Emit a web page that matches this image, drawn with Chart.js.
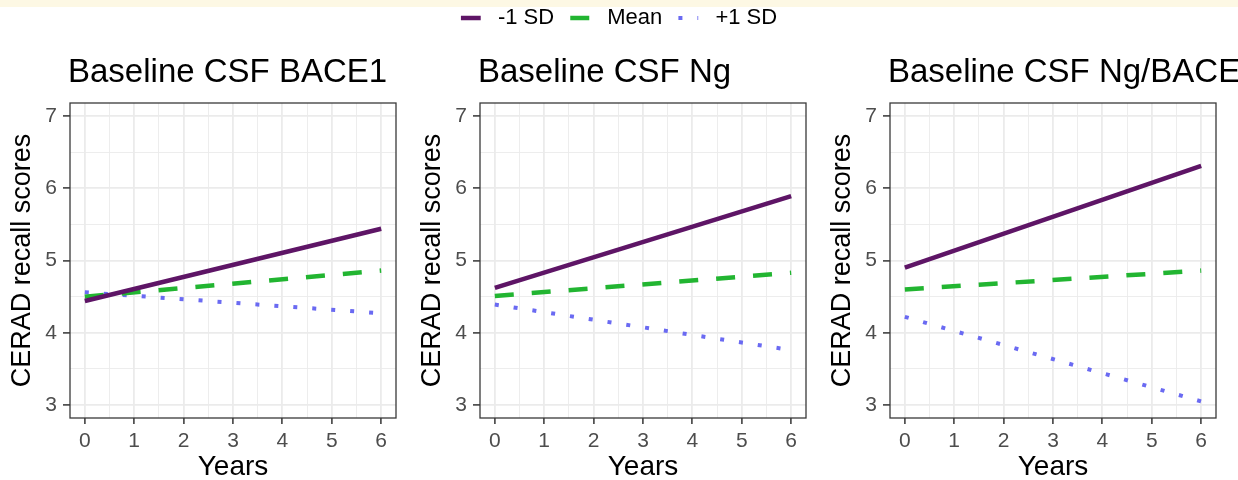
<!DOCTYPE html>
<html>
<head>
<meta charset="utf-8">
<script src="https://cdn.jsdelivr.net/npm/chart.js@4.4.0/dist/chart.umd.min.js"></script>
<style>
  body { margin: 0; background: #fff; width: 1238px; height: 480px; overflow: hidden; position: relative; }
  #band { position: absolute; left: 0; top: 0; width: 1238px; height: 7px; background: #fdf8e4; }
  canvas { position: absolute; top: 0; }
</style>
</head>
<body>
<div id="band"></div>
<canvas id="legendBox" width="1238" height="70" style="left:0; top:-9px"></canvas>
<canvas id="c1" width="410" height="480" style="left:0"></canvas>
<canvas id="c2" width="410" height="480" style="left:410px"></canvas>
<canvas id="c3" width="418" height="480" style="left:820px"></canvas>
<script>
// data (values at year 0 and year 6)
var years = [0, 6];
var seriesNames = ['-1 SD', 'Mean', '+1 SD'];
var panelTitles = ['Baseline CSF BACE1', 'Baseline CSF Ng', 'Baseline CSF Ng/BACE'];

var bace1Low = [4.44, 5.44];
var bace1Mean = [4.50, 4.86];
var bace1High = [4.56, 4.27];

var ngLow = [4.62, 5.89];
var ngMean = [4.51, 4.83];
var ngHigh = [4.39, 3.76];

var ratioLow = [4.90, 6.31];
var ratioMean = [4.60, 4.86];
var ratioHigh = [4.22, 3.05];

var xTickLabels = [0, 1, 2, 3, 4, 5, 6];
var yTickLabels = [3, 4, 5, 6, 7];

var FONT = "'Liberation Sans', Arial, sans-serif";
var colors = ['#5e1566', '#22b531', '#6a6af2'];
var dashes = [[], [19, 18], [4, 15]];
var widths = [4.5, 4.5, 4];

// gridline positions (major + minor)
var xGrid = [];
for (var i = 0; i <= 12; i++) xGrid.push(i / 2);
var yGrid = [];
for (var j = 6; j <= 14; j++) yGrid.push(j / 2);

function makeSet(k, values) {
  return {
    label: seriesNames[k],
    data: years.map(function (x, n) { return { x: x, y: values[n] }; }),
    borderColor: colors[k],
    backgroundColor: colors[k],
    borderWidth: widths[k],
    borderDash: dashes[k],
    borderCapStyle: 'butt',
    pointRadius: 0,
    fill: false
  };
}

var isMajor = function (ctx) { return ctx.tick && Number.isInteger(ctx.tick.value); };

var panelTitle = {
  id: 'panelTitle',
  afterDraw: function (chart, args, opts) {
    var c = chart.ctx;
    c.save();
    c.font = '33px ' + FONT;
    c.fillStyle = '#000';
    c.textBaseline = 'middle';
    c.textAlign = 'left';
    c.fillText(opts.text, chart.chartArea.left - 2, 73);
    c.restore();
  }
};

var frame = {
  id: 'frame',
  afterDraw: function (chart) {
    var a = chart.chartArea, c = chart.ctx;
    c.save();
    c.strokeStyle = '#3a3a3a';
    c.lineWidth = 1.3;
    c.strokeRect(a.left, a.top, a.right - a.left, a.bottom - a.top);
    c.restore();
  }
};

function makePanel(id, title, low, mean, high, padRight) {
  return new Chart(document.getElementById(id), {
    type: 'line',
    data: { datasets: [makeSet(0, low), makeSet(1, mean), makeSet(2, high)] },
    plugins: [panelTitle, frame],
    options: {
      responsive: false,
      animation: false,
      layout: { padding: { top: 103, right: padRight, bottom: 0, left: 0 } },
      plugins: {
        legend: { display: false },
        tooltip: { enabled: false },
        panelTitle: { text: title }
      },
      scales: {
        x: {
          type: 'linear',
          min: -0.3,
          max: 6.3,
          afterBuildTicks: function (s) { s.ticks = xGrid.map(function (v) { return { value: v }; }); },
          afterFit: function (s) { s.height = 62; },
          border: { display: false },
          grid: {
            color: '#ebebeb',
            lineWidth: function (ctx) { return isMajor(ctx) ? 1.8 : 0.9; },
            tickColor: function (ctx) { return isMajor(ctx) ? '#333333' : 'rgba(0,0,0,0)'; },
            tickWidth: 1.5,
            tickLength: 6
          },
          ticks: {
            padding: 5,
            color: '#4d4d4d',
            font: { family: FONT, size: 21 },
            maxRotation: 0,
            autoSkip: false,
            callback: function (v) { return xTickLabels.indexOf(v) >= 0 ? String(v) : ''; }
          },
          title: {
            display: true,
            text: 'Years',
            color: '#000',
            font: { family: FONT, size: 28, lineHeight: 1 },
            padding: { top: 0, bottom: -1 }
          }
        },
        y: {
          type: 'linear',
          min: 2.82,
          max: 7.18,
          afterBuildTicks: function (s) { s.ticks = yGrid.map(function (v) { return { value: v }; }); },
          afterFit: function (s) { s.width = 70; },
          border: { display: false },
          grid: {
            color: '#ebebeb',
            lineWidth: function (ctx) { return isMajor(ctx) ? 1.8 : 0.9; },
            tickColor: function (ctx) { return isMajor(ctx) ? '#333333' : 'rgba(0,0,0,0)'; },
            tickWidth: 1.5,
            tickLength: 7
          },
          ticks: {
            padding: 6,
            color: '#4d4d4d',
            font: { family: FONT, size: 21 },
            autoSkip: false,
            callback: function (v) { return yTickLabels.indexOf(v) >= 0 ? String(v) : ''; }
          },
          title: {
            display: true,
            text: 'CERAD recall scores',
            color: '#000',
            font: { family: FONT, size: 27, lineHeight: 1 },
            padding: { top: 9, bottom: 0 }
          }
        }
      }
    }
  });
}

makePanel('c1', panelTitles[0], bace1Low, bace1Mean, bace1High, 14);
makePanel('c2', panelTitles[1], ngLow, ngMean, ngHigh, 14);
makePanel('c3', panelTitles[2], ratioLow, ratioMean, ratioHigh, 22);

// shared legend across the top
new Chart(document.getElementById('legendBox'), {
  type: 'line',
  data: {
    datasets: seriesNames.map(function (name, k) {
      return { label: name, data: [], borderColor: colors[k], borderWidth: widths[k], borderDash: dashes[k] };
    })
  },
  options: {
    responsive: false,
    animation: false,
    layout: { padding: 0 },
    scales: { x: { display: false }, y: { display: false } },
    plugins: {
      tooltip: { enabled: false },
      legend: {
        display: true,
        position: 'top',
        maxHeight: 70,
        labels: {
          usePointStyle: true,
          pointStyle: 'line',
          boxWidth: 20,
          boxHeight: 14,
          padding: 16,
          color: '#1a1a1a',
          font: { family: FONT, size: 22 },
          generateLabels: function (chart) {
            return chart.data.datasets.map(function (ds, i) {
              return {
                text: ' ' + ds.label,
                fillStyle: ds.borderColor,
                strokeStyle: ds.borderColor,
                lineWidth: ds.borderWidth,
                lineDash: ds.borderDash,
                lineCap: 'butt',
                pointStyle: 'line',
                hidden: false,
                datasetIndex: i
              };
            });
          }
        }
      }
    }
  }
});
</script>
</body>
</html>
